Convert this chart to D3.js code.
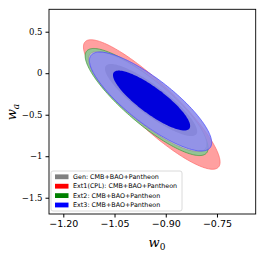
<!DOCTYPE html>
<html>
<head>
<meta charset="utf-8">
<script src="https://cdn.jsdelivr.net/npm/d3@7"></script>
<style>
  body { margin: 0; background: #fff; }
  svg { display: block; }
</style>
</head>
<body>
<div id="chart"></div>
<script>
// series (legend order)
const labels = ['Gen: CMB+BAO+Pantheon', 'Ext1(CPL): CMB+BAO+Pantheon', 'Ext2: CMB+BAO+Pantheon', 'Ext3: CMB+BAO+Pantheon'];

// 95% contours: centre, half extent along w0 / wa, correlation
const w0Mid95 = [-0.953, -0.941, -0.956, -0.9445];
const waMid95 = [-0.341, -0.377, -0.347, -0.341];
const w0Half95 = [0.173, 0.200, 0.180, 0.179];
const waHalf95 = [0.602, 0.780, 0.645, 0.596];
const rho95 = [-0.85, -0.89, -0.86, -0.83];

// 68% contours
const w0Mid68 = [-0.943, -0.941, -0.956, -0.9416];
const waMid68 = [-0.323, -0.377, -0.347, -0.329];
const w0Half68 = [0.135, 0.125, 0.110, 0.113];
const waHalf68 = [0.434, 0.480, 0.400, 0.361];
const rho68 = [-0.87, -0.88, -0.86, -0.85];

const xTicks = [-1.20, -1.05, -0.90, -0.75];
const yTicks = [0.5, 0, -0.5, -1, -1.5];

// styles
const patchColor = ['#808080', '#ff0000', '#008000', '#0000ff'];
const fill95 = ['#d0d0d0', '#ffa0a0', '#94c494', '#8888eb'];
const fill68 = ['#808080', '#ff7070', '#60a060', '#0000dc'];
const line95 = ['#909090', '#ff6a6a', '#3c9a3c', '#4848ff'];
const op95 = [1, 1, 1, 0.85];
const drawOrder = [1, 2, 0, 3];

const width = 266, height = 257;
const m = {left: 49, right: 10.3, top: 9.3, bottom: 43};

const svg = d3.select('#chart').append('svg')
    .attr('width', width)
    .attr('height', height)
    .style('font-family', 'DejaVu Sans');

const x = d3.scaleLinear().domain([-1.2419, -0.6366]).range([m.left, width - m.right]);
const y = d3.scaleLinear().domain([-1.696, 0.770]).range([height - m.bottom, m.top]);

svg.append('defs').append('clipPath').attr('id', 'clip')
    .append('rect')
    .attr('x', m.left).attr('y', m.top)
    .attr('width', width - m.left - m.right)
    .attr('height', height - m.top - m.bottom);

function ellipse(cx, cy, hx, hy, r) {
  const pts = d3.range(0, 360, 2).map(a => {
    const t = a * Math.PI / 180;
    return [cx + hx * Math.cos(t), cy + hy * (r * Math.cos(t) + Math.sqrt(1 - r * r) * Math.sin(t))];
  });
  return d3.line().x(d => x(d[0])).y(d => y(d[1])).curve(d3.curveLinearClosed)(pts);
}

const plot = svg.append('g').attr('clip-path', 'url(#clip)');

drawOrder.forEach(i => {
  plot.append('path')
      .attr('d', ellipse(w0Mid95[i], waMid95[i], w0Half95[i], waHalf95[i], rho95[i]))
      .attr('fill', fill95[i])
      .attr('fill-opacity', op95[i])
      .attr('stroke', line95[i])
      .attr('stroke-width', 0.7);
  plot.append('path')
      .attr('d', ellipse(w0Mid68[i], waMid68[i], w0Half68[i], waHalf68[i], rho68[i]))
      .attr('fill', fill68[i])
      .attr('stroke', 'none');
});

// axes
const fmtX = d => d3.format('.2f')(d).replace('-', '\u2212');
const fmtY = d => String(d).replace('-', '\u2212');

const xAxis = svg.append('g')
    .attr('transform', `translate(0,${height - m.bottom})`)
    .call(d3.axisBottom(x).tickValues(xTicks).tickFormat(fmtX).tickSize(3.5).tickPadding(3));
xAxis.select('.domain').remove();
xAxis.selectAll('text').style('font-size', '9.5px').style('font-family', 'DejaVu Sans').attr('fill', '#000');

const yAxis = svg.append('g')
    .attr('transform', `translate(${m.left},0)`)
    .call(d3.axisLeft(y).tickValues(yTicks).tickFormat(fmtY).tickSize(3.5).tickPadding(3));
yAxis.select('.domain').remove();
yAxis.selectAll('text').style('font-size', '8.5px').style('font-family', 'DejaVu Serif').attr('fill', '#000');

svg.append('rect')
    .attr('x', m.left).attr('y', m.top)
    .attr('width', width - m.left - m.right)
    .attr('height', height - m.top - m.bottom)
    .attr('fill', 'none')
    .attr('stroke', '#000')
    .attr('stroke-width', 0.9);

// axis labels
const xl = svg.append('text')
    .attr('x', 157).attr('y', 247)
    .attr('text-anchor', 'middle')
    .style('font-family', 'DejaVu Serif')
    .style('font-style', 'italic')
    .style('font-size', '13px');
xl.append('tspan').text('w');
xl.append('tspan').attr('dy', 3).style('font-size', '9px').style('font-style', 'normal').text('0');

const yl = svg.append('text')
    .attr('transform', 'translate(16,112) rotate(-90)')
    .attr('text-anchor', 'middle')
    .style('font-family', 'DejaVu Serif')
    .style('font-style', 'italic')
    .style('font-size', '13px');
yl.append('tspan').text('w');
yl.append('tspan').attr('dy', 3).style('font-size', '9px').text('a');

// legend
const lg = svg.append('g').attr('transform', 'translate(51,171)');
lg.append('rect')
    .attr('width', 131).attr('height', 40)
    .attr('rx', 2)
    .attr('fill', '#fff').attr('fill-opacity', 0.85)
    .attr('stroke', '#d0d0d0').attr('stroke-width', 0.8);
labels.forEach((t, i) => {
  const row = lg.append('g').attr('transform', `translate(4,${5.7 + i * 9.4})`);
  row.append('rect').attr('x', 0).attr('y', -2.3).attr('width', 13.5).attr('height', 4.8).attr('fill', patchColor[i]);
  row.append('text').attr('x', 18).attr('y', 2.3)
      .style('font-size', '6.4px')
      .text(t);
});
</script>
</body>
</html>
